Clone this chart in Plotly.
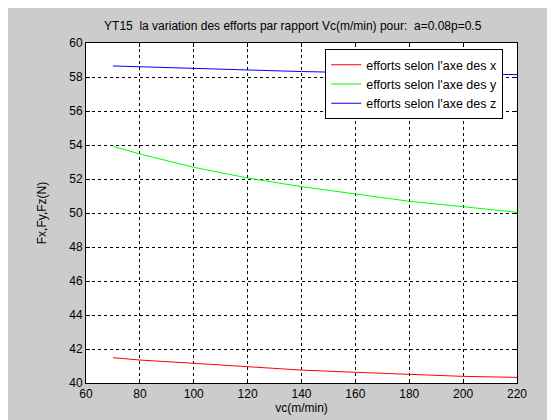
import plotly.graph_objects as go

# vitesse de coupe (m/min)
vc = [70, 80, 100, 120, 140, 160, 180, 200, 220]

# efforts (N)
fx = [41.49, 41.35, 41.16, 40.96, 40.76, 40.63, 40.51, 40.39, 40.33]
fy = [53.92, 53.47, 52.69, 52.06, 51.55, 51.14, 50.69, 50.37, 50.04]
fz = [58.65, 58.60, 58.49, 58.39, 58.32, 58.26, 58.21, 58.17, 58.14]

names = ["efforts selon l'axe des x", "efforts selon l'axe des y", "efforts selon l'axe des z"]
colors = ["#ff0000", "#00ff00", "#0000ff"]

fig = go.Figure()
for ys, nm, c in zip([fx, fy, fz], names, colors):
    fig.add_trace(go.Scatter(x=vc, y=ys, mode="lines", name=nm,
                             line=dict(color=c, width=1)))

axis_style = dict(showline=True, linecolor="black", linewidth=1, mirror="allticks",
                  ticks="inside", ticklen=4, tickcolor="black",
                  showgrid=True, gridcolor="black", gridwidth=1, griddash="3px,3px",
                  zeroline=False, tickfont=dict(size=12, color="black"))

fig.update_xaxes(range=[60, 220], dtick=20, title=dict(text="vc(m/min)", standoff=3,
                 font=dict(size=12, color="black")), **axis_style)
fig.update_yaxes(range=[40, 60], dtick=2, title=dict(text="Fx,Fy,Fz(N)", standoff=20,
                 font=dict(size=12, color="black")), **axis_style)

fig.update_layout(
    width=555, height=420,
    margin=dict(l=78, r=46, t=35, b=45),
    paper_bgcolor="#cccccc", plot_bgcolor="white",
    font=dict(family="Liberation Sans, Arial, sans-serif", size=12, color="black"),
    title=dict(text="YT15  la variation des efforts par rapport Vc(m/min) pour:  a=0.08p=0.5",
               x=0.513, xanchor="center", y=0.957, yanchor="middle",
               font=dict(size=12, color="black")),
    legend=dict(x=0.555, y=0.982, xanchor="left", yanchor="top",
                bgcolor="white", bordercolor="black", borderwidth=1,
                font=dict(size=12.5, color="black"), tracegroupgap=0,
                itemwidth=30),
    showlegend=True,
)

fig.write_html("out.html")
